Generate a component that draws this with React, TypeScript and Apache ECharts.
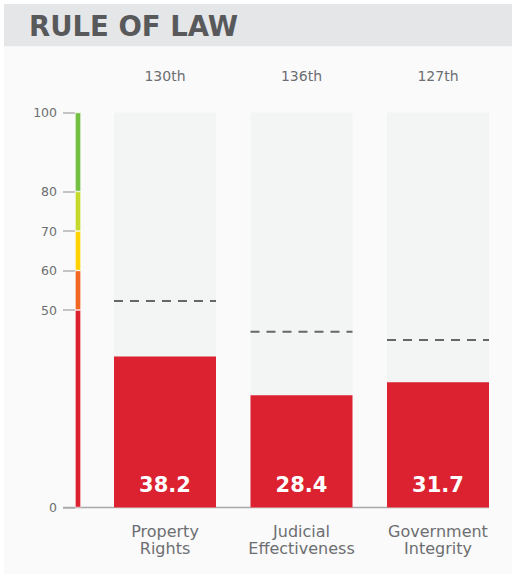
import React, { useEffect, useRef } from "react";
import * as echarts from "echarts";

// Rule of Law sub-scores
const CATEGORIES = ["Property\nRights", "Judicial\nEffectiveness", "Government\nIntegrity"];
const RANKS = ["130th", "136th", "127th"];
const SCORES = [38.2, 28.4, 31.7];
const WORLD_AVERAGES = [52.3, 44.5, 42.4];

// Freedom scale bands (stacked from 0 up to 100)
const SCALE_BANDS = [50, 10, 10, 10, 20];
const SCALE_COLORS = ["#dc2230", "#f26522", "#ffd200", "#c5d92d", "#72bf44"];
const SCALE_TICKS = [0, 50, 60, 70, 80, 100];

const FONT = "'DejaVu Sans', 'Open Sans', sans-serif";
const BAR_WIDTH = 102;
const TEXT_GRAY = "#6d6e71";

export default function App() {
  const ref = useRef<HTMLDivElement>(null);

  useEffect(() => {
    if (!ref.current) return;
    const chart = echarts.init(ref.current, undefined, { renderer: "svg" });

    const scaleSeries = SCALE_BANDS.map((v, i) => ({
      type: "bar",
      stack: "scale",
      xAxisIndex: 0,
      yAxisIndex: 0,
      barWidth: "100%",
      data: [v],
      itemStyle: { color: SCALE_COLORS[i], borderColor: "#ffffff", borderWidth: 0.6 },
      silent: true,
    }));

    chart.setOption({
      animation: false,
      backgroundColor: "#ffffff",
      textStyle: { fontFamily: FONT },
      grid: [
        { left: 75, width: 6, top: 112.5, height: 395 },
        { left: 96.75, width: 409.5, top: 112.5, height: 395 },
      ],
      xAxis: [
        { type: "category", gridIndex: 0, data: [""], show: false },
        {
          type: "category",
          gridIndex: 1,
          data: CATEGORIES,
          axisLine: { show: false },
          axisTick: { show: false },
          axisLabel: {
            interval: 0,
            hideOverlap: false,
            margin: 15,
            fontSize: 16,
            lineHeight: 17.5,
            color: TEXT_GRAY,
            fontFamily: FONT,
          },
        },
        {
          type: "category",
          gridIndex: 1,
          position: "top",
          data: RANKS,
          axisLine: { show: false },
          axisTick: { show: false },
          axisLabel: { interval: 0, margin: 30, fontSize: 14, color: TEXT_GRAY, fontFamily: FONT },
        },
      ],
      yAxis: [
        {
          type: "value",
          gridIndex: 0,
          min: 0,
          max: 100,
          axisLine: { show: false },
          splitLine: { show: false },
          axisTick: {
            show: true,
            length: 12,
            customValues: SCALE_TICKS,
            lineStyle: { color: "#c4c4c4", width: 2 },
          },
          axisLabel: {
            customValues: SCALE_TICKS,
            margin: 18,
            fontSize: 12.5,
            color: TEXT_GRAY,
            fontFamily: FONT,
          },
        },
        { type: "value", gridIndex: 1, min: 0, max: 100, show: false },
      ],
      series: [
        ...scaleSeries,
        {
          type: "bar",
          xAxisIndex: 1,
          yAxisIndex: 1,
          barWidth: BAR_WIDTH,
          data: SCORES,
          showBackground: true,
          backgroundStyle: { color: "#f3f4f4" },
          itemStyle: { color: "#dc2230" },
          label: {
            show: true,
            position: "insideBottom",
            distance: 12,
            color: "#ffffff",
            fontSize: 21,
            fontWeight: "bold",
            fontFamily: FONT,
            formatter: (p: any) => p.value.toFixed(1),
          },
          z: 2,
        },
        {
          type: "custom",
          xAxisIndex: 1,
          yAxisIndex: 1,
          data: WORLD_AVERAGES.map((v, i) => [i, v]),
          z: 3,
          renderItem: (params: any, api: any) => {
            const p = api.coord([api.value(0), api.value(1)]);
            const half = BAR_WIDTH / 2;
            return {
              type: "line",
              shape: { x1: p[0] - half, y1: p[1], x2: p[0] + half, y2: p[1] },
              style: { stroke: "#666769", lineWidth: 2, lineDash: [9, 7] },
            };
          },
        },
      ],
    });

    // Baseline runs from the scale's tick marks to the right edge of the last bar
    const y0 = chart.convertToPixel({ yAxisIndex: 0 }, 0) as number;
    const lastX = chart.convertToPixel({ xAxisIndex: 1 }, CATEGORIES.length - 1) as number;
    const scaleX = chart.convertToPixel({ xAxisIndex: 0 }, 0) as number;

    chart.setOption({
      graphic: [
        { type: "rect", z: -10, shape: { x: 4, y: 4, width: 508, height: 42.5 }, style: { fill: "#e5e6e8" }, silent: true },
        { type: "rect", z: -10, shape: { x: 4, y: 46.5, width: 508, height: 527.5 }, style: { fill: "#fafafa" }, silent: true },
        {
          type: "text",
          x: 29,
          y: 26,
          style: {
            text: "RULE OF LAW",
            fill: "#58595b",
            fontSize: 27.5,
            fontWeight: "bold",
            fontFamily: FONT,
            verticalAlign: "middle",
          },
        },
        {
          type: "line",
          z: 1,
          shape: { x1: scaleX - 3 - 12, y1: y0, x2: lastX + BAR_WIDTH / 2, y2: y0 },
          style: { stroke: "#a7a9ac", lineWidth: 1.5 },
          silent: true,
        },
      ],
    });

    return () => chart.dispose();
  }, []);

  return (
    <div
      ref={ref}
      style={{ position: "absolute", left: 0, top: 0, width: 512, height: 574 }}
    />
  );
}
